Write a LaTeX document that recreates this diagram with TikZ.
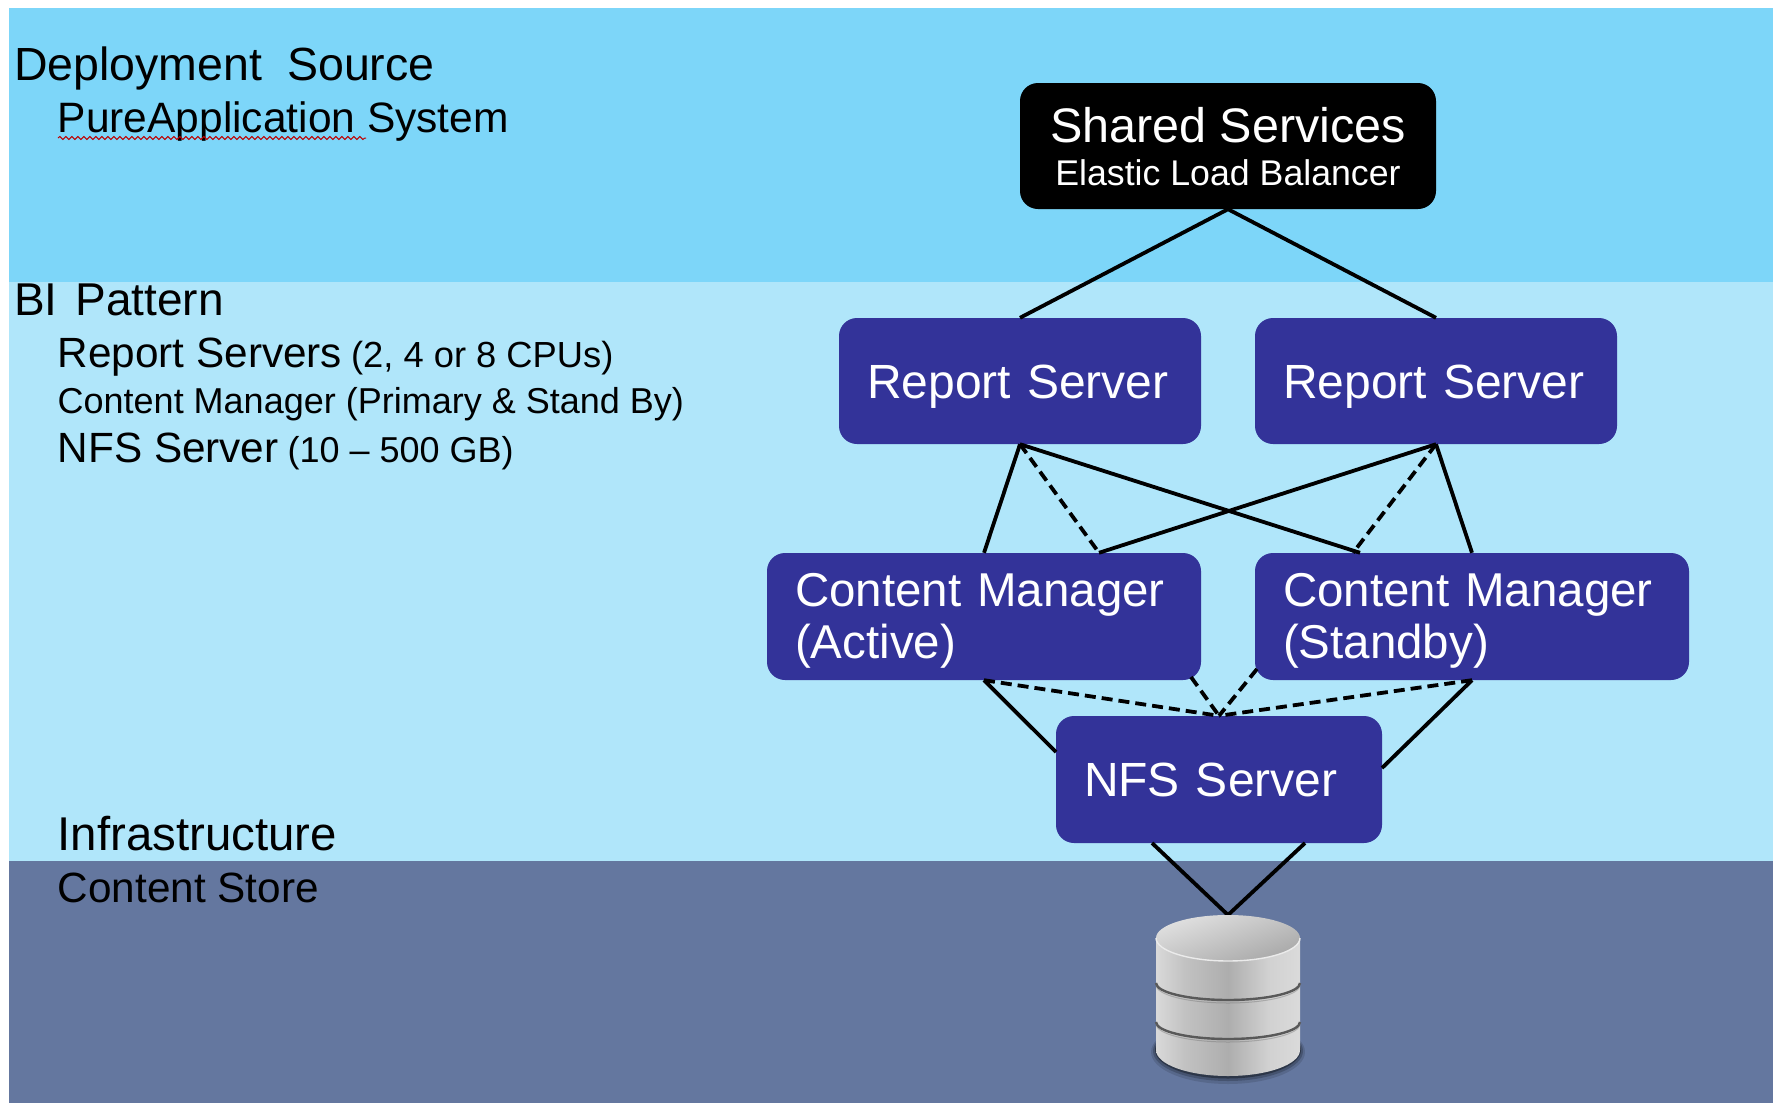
\documentclass[tikz,border=0pt]{standalone}
\usepackage{fontspec}
\setmainfont{Liberation Sans}
\usetikzlibrary{decorations.pathmorphing,calc}
\definecolor{bandA}{HTML}{7DD6F9}
\definecolor{bandB}{HTML}{B0E6FA}
\definecolor{bandC}{HTML}{64779F}
\definecolor{boxblue}{HTML}{333399}
\pgfdeclarehorizontalshading{dbbody}{100bp}{
 color(0bp)=(white!78!black); color(8bp)=(white!84!black); color(22bp)=(white!88!black);
 color(35bp)=(white!76!black); color(50bp)=(white!68!black); color(64bp)=(white!82!black);
 color(82bp)=(white!88!black); color(92bp)=(white!85!black); color(100bp)=(white!74!black)}
\newcommand{\fs}[1]{\fontsize{#1}{#1}\selectfont}
\tikzset{
 x=1pt,y=-1pt,
 boxstyle/.style={fill=boxblue,text=white,rounded corners=18pt,inner sep=0pt,align=left,
   font=\fontsize{48}{52}\selectfont},
 lbl/.style={anchor=base west,inner sep=0pt,text=black},
 link/.style={line width=3.8pt,black},
 dlink/.style={line width=3.8pt,black,dash pattern=on 11pt off 6pt},
}
\begin{document}
\begin{tikzpicture}
\useasboundingbox (0,0) rectangle (1773,1103);
\fill[white] (0,0) rectangle (1773,1103);
\fill[bandA] (9,8) rectangle (1773,282);
\fill[bandB] (9,282) rectangle (1773,861);
\fill[bandC] (9,861) rectangle (1773,1103);

% labels
\node[lbl,font=\fs{46.5}] (tdeploy) at (14,80) {Deployment\hspace{12pt} Source};
\node[lbl,font=\fs{42.5}] (tpure) at (57.5,132) {PureApplication System};
\node[lbl,font=\fs{46}] (tbi) at (14,315) {BI\hspace{5pt} Pattern};
\node[lbl,font=\fs{42.3}] (trep) at (57.5,367) {Report Servers\hspace{9pt}{\fs{36.3}(2, 4 or 8 CPUs)}};
\node[lbl,font=\fs{36}] (tcm) at (57.5,413) {Content Manager (Primary \& Stand By)};
\node[lbl,font=\fs{42.3}] (tnfs) at (57.5,462) {NFS Server\hspace{9pt}{\fs{36}(10 – 500 GB)}};
\node[lbl,font=\fs{47.4}] (tinf) at (57.5,850) {Infrastructure};
\node[lbl,font=\fs{42.3}] (tcs) at (57.5,902) {Content Store};
\coordinate (sqa) at (58,138);
\coordinate (sqb) at (366,138);
\draw[red!75!black,line width=1pt,decorate,decoration={snake,amplitude=1.5pt,segment length=6pt}] (sqa) -- (sqb);

% boxes
\node[boxstyle,fill=black,minimum width=416pt,minimum height=126pt,align=center] (shared) at (1228,146)
  {\rule{0pt}{42pt}\fs{48.5}Shared Services\\[-8.5pt]\fs{35.7}Elastic Load Balancer\rule[-6.5pt]{0pt}{6.5pt}};
\node[boxstyle,minimum width=362pt,minimum height=126pt,text width=306pt] (rep1) at (1020,381) {\rule{0pt}{44pt}Report Server};
\node[boxstyle,minimum width=362pt,minimum height=126pt,text width=306pt] (rep2) at (1436,381) {\rule{0pt}{44pt}Report Server};
\node[boxstyle,minimum width=434pt,minimum height=127pt,text width=378pt] (cma) at (984,616.5) {\rule{0pt}{41pt}\fs{47.5}Content Manager\\(Active)};
\node[boxstyle,minimum width=434pt,minimum height=127pt,text width=378pt] (cmb) at (1472,616.5) {\rule{0pt}{41pt}\fs{47.5}Content Manager\\(Standby)};
\node[boxstyle,minimum width=326pt,minimum height=127pt,text width=270pt] (nfs) at (1219,779.5) {NFS Server};

% connector end points
\coordinate (cmaq) at ($(cma.north)+(115,0)$);
\coordinate (cmbq) at ($(cmb.north)+(-112,0)$);
\coordinate (cmbd) at ($(cmb.north)+(-119,0)$);
\coordinate (cmain) at (1191,677);
\coordinate (cmbin) at (1257,669);
\coordinate (nfsl) at (1056,752);
\coordinate (nfsr) at (1382,768);
\coordinate (nfsbl) at (1152,843);
\coordinate (nfsbr) at (1305,843);
\coordinate (dbtop) at (1228,915);

\draw[link] (shared.south) -- (rep1.north);
\draw[link] (shared.south) -- (rep2.north);
\draw[link] (rep1.south) -- (cma.north);
\draw[link] (rep1.south) -- (cmbq);
\draw[dlink] (rep1.south) -- (cmaq);
\draw[link] (rep2.south) -- (cmb.north);
\draw[link] (rep2.south) -- (cmaq);
\draw[dlink] (rep2.south) -- (cmbd);
\draw[link] (cma.south) -- (nfsl);
\draw[link] (cmb.south) -- (nfsr);
\draw[dlink] (cma.south) -- (nfs.north);
\draw[dlink] (cmb.south) -- (nfs.north);
\draw[dlink] (cmain) -- (nfs.north);
\draw[dlink] (cmbin) -- (nfs.north);
\draw[link] (nfsbl) -- (dbtop);
\draw[link] (nfsbr) -- (dbtop);

% database
\fill[black,opacity=.12] (1228,1052) ellipse[x radius=77,y radius=32];
\fill[black,opacity=.2] (1228,1051) ellipse[x radius=75,y radius=30];
\fill[black,opacity=.35] (1228,1050) ellipse[x radius=73,y radius=28.5];
\shade[shading=dbbody] (1156,940) -- (1156,1050) arc[start angle=180,end angle=0,x radius=72,y radius=26]
   -- (1300,940) -- cycle;
\draw[black!65,line width=2.4pt] (1156,983) arc[start angle=180,end angle=0,x radius=72,y radius=17];
\draw[black!65,line width=2.4pt] (1156,1022) arc[start angle=180,end angle=0,x radius=72,y radius=17];
\draw[white!40!black,opacity=.35,line width=1pt] (1156,985) arc[start angle=180,end angle=0,x radius=72,y radius=18];
\draw[white!40!black,opacity=.35,line width=1pt] (1156,1024) arc[start angle=180,end angle=0,x radius=72,y radius=18];
\shade[left color=white!88!black,right color=white!66!black,shading angle=20]
  (1228,938) ellipse[x radius=72,y radius=23];
\draw[white!92!black,line width=1.4pt] (1156,938) arc[start angle=180,end angle=0,x radius=72,y radius=23];
\end{tikzpicture}
\end{document}
